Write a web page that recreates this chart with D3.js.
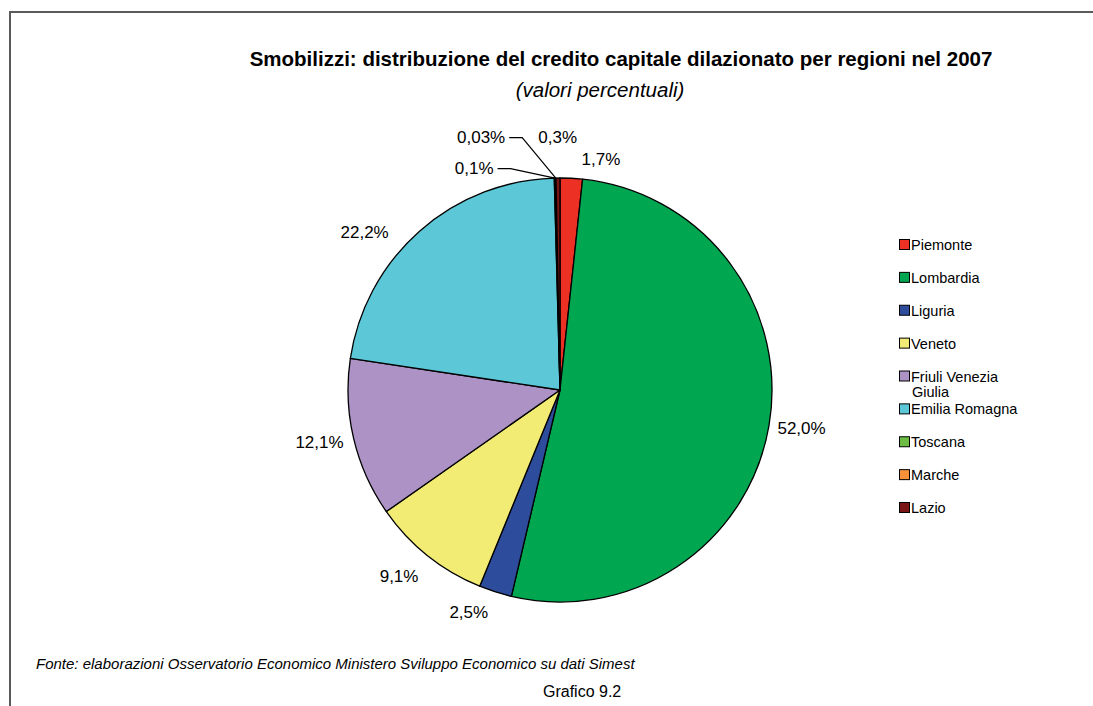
<!DOCTYPE html>
<html><head><meta charset="utf-8">
<script src="https://cdn.jsdelivr.net/npm/d3@7"></script>
<style>
html,body{margin:0;padding:0;background:#fff;}
svg{display:block;font-family:"Liberation Sans",Arial,sans-serif;}
</style></head>
<body>
<svg id="c" width="1093" height="706"></svg>
<script>
const regions = ["Piemonte","Lombardia","Liguria","Veneto","Friuli Venezia Giulia","Emilia Romagna","Toscana","Marche","Lazio"];
const shares = [1.7, 52.0, 2.5, 9.1, 12.1, 22.2, 0.1, 0.03, 0.3];
const valueLabels = ["1,7%","52,0%","2,5%","9,1%","12,1%","22,2%","0,1%","0,03%","0,3%"];
const colors = ["#ED3024","#00A650","#2E4C9C","#F2EB74","#AD92C5","#5BC7D7","#6DBD45","#F7923B","#7A1517"];
// label nudges relative to computed default placement (Excel-like layout)
const labelNudge = [[28,0],[-3,0],[-17,3],[-9,6],[1,0],[-31,15],[-80,9],[-74,-22],[0,-22]];

const svg = d3.select("#c");
// frame
svg.append("line").attr("x1",10).attr("y1",12).attr("x2",1093).attr("y2",12).attr("stroke","#5a5a5a").attr("stroke-width",2);
svg.append("line").attr("x1",10).attr("y1",11).attr("x2",10).attr("y2",706).attr("stroke","#5a5a5a").attr("stroke-width",2);

svg.append("text").attr("x",621).attr("y",66).attr("text-anchor","middle")
  .attr("font-size",20.5).attr("font-weight","bold").attr("fill","#000")
  .text("Smobilizzi: distribuzione del credito capitale dilazionato per regioni nel 2007");
svg.append("text").attr("x",600).attr("y",97).attr("text-anchor","middle")
  .attr("font-size",20.5).attr("font-style","italic").attr("fill","#000")
  .text("(valori percentuali)");

const cx = 560, cy = 390, r = 212;
const data = regions.map((d,i)=>({name:d, value:shares[i], label:valueLabels[i], color:colors[i], i}));
const pie = d3.pie().sort(null).value(d=>d.value).startAngle(0).endAngle(2*Math.PI);
const arcs = pie(data);
const arc = d3.arc().innerRadius(0).outerRadius(r);
const g = svg.append("g").attr("transform",`translate(${cx},${cy})`);
g.selectAll("path.slice").data(arcs).join("path").attr("class","slice")
  .attr("d",arc).attr("fill",d=>d.data.color).attr("stroke","#000").attr("stroke-width",1.3).attr("stroke-linejoin","round");

// labels
const fs = 17;
arcs.forEach(a=>{
  const mid = (a.startAngle+a.endAngle)/2;
  const s = Math.sin(mid), c = Math.cos(mid);
  const t = g.append("text").attr("font-size",fs).attr("fill","#000")
    .attr("text-anchor","middle").attr("dominant-baseline","central").text(a.data.label);
  const w = t.node().getComputedTextLength(), h = 13;
  const R = r + 12;
  const px = R*s, py = -R*c;
  const nx = labelNudge[a.data.i][0], ny = labelNudge[a.data.i][1];
  const lx = px + s*w/2 + nx, ly = py - c*h/2 + ny;
  t.attr("x",lx).attr("y",ly);
  if (a.data.value < 0.2) {
    const ax = (r)*s, ay = -(r)*c;
    const x0 = lx + w/2 + 4, x1 = x0 + 13;
    g.append("polyline").attr("points",`${x0},${ly} ${x1},${ly} ${ax},${ay}`)
      .attr("fill","none").attr("stroke","#000").attr("stroke-width",1.2);
  }
});

// legend
const legY = d3.scalePoint().domain(regions).range([245,508]);
const lg = svg.append("g");
regions.forEach((name,i)=>{
  const y = legY(name);
  lg.append("rect").attr("x",899.5).attr("y",y-5.5).attr("width",10).attr("height",10)
    .attr("fill",colors[i]).attr("stroke","#000").attr("stroke-width",1);
  const t = lg.append("text").attr("x",911).attr("y",y).attr("dominant-baseline","central")
    .attr("font-size",14.5).attr("fill","#000");
  if (name === "Friuli Venezia Giulia") {
    t.append("tspan").attr("x",911).text("Friuli Venezia");
    t.append("tspan").attr("x",912).attr("dy",15.5).text("Giulia");
  } else t.text(name);
});

svg.append("text").attr("x",36).attr("y",663).attr("dominant-baseline","central")
  .attr("font-size",15).attr("font-style","italic").attr("fill","#000")
  .text("Fonte: elaborazioni Osservatorio Economico Ministero Sviluppo Economico su dati Simest");
svg.append("text").attr("x",543).attr("y",691).attr("dominant-baseline","central")
  .attr("font-size",16).attr("fill","#000").text("Grafico 9.2");
</script>
</body></html>
